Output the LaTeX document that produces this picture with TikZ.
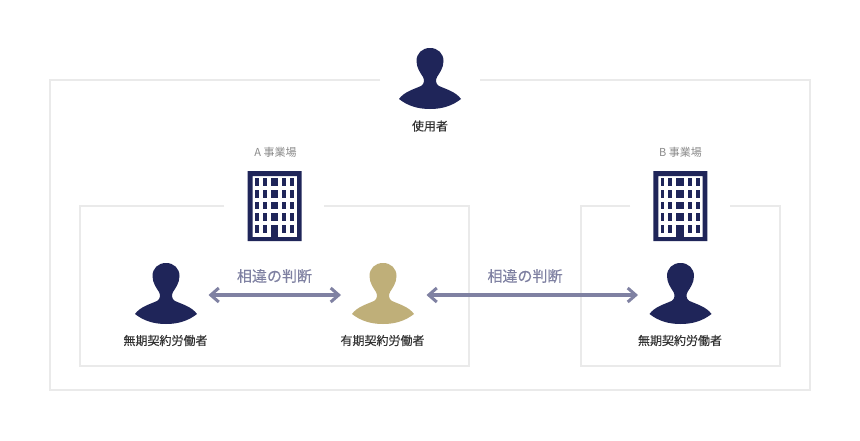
\documentclass[tikz,border=0pt]{standalone}
\usepackage{fontspec}
\setmainfont{Noto Sans CJK JP}
\newfontfamily\jpmed[FakeBold=0.3]{Noto Sans CJK JP}
\usetikzlibrary{arrows.meta}
\definecolor{navy}{HTML}{1F2559}
\definecolor{sand}{HTML}{BFAF79}
\definecolor{framec}{HTML}{EAEAEA}
\definecolor{arrowc}{HTML}{7F81A2}
\definecolor{labelc}{HTML}{333333}
\definecolor{sitec}{HTML}{8A8A8A}
\tikzset{
  x=1pt,y=-1pt,
  frameline/.style={draw=framec,line width=1.1pt},
  compare/.style={draw=arrowc,line width=3.1pt,{Straight Barb[length=8pt,width=14pt,line width=3pt]}-{Straight Barb[length=8pt,width=14pt,line width=3pt]}},
  plabel/.style={text=labelc,font=\jpmed\fontsize{12}{14}\selectfont,inner sep=0pt},
  clabel/.style={text=arrowc,font=\jpmed\fontsize{15}{18}\selectfont,inner sep=0pt},
  slabel/.style={text=sitec,font=\fontsize{11}{13}\selectfont,inner sep=0pt},
  personicon/.pic={
    \fill[pic actions]
      (0,0) .. controls (8,0) and (13.5,5.5) .. (13.5,13)
      .. controls (13.5,20) and (9.5,25) .. (7,29)
      .. controls (5.5,32) and (5.5,36) .. (9,38)
      .. controls (17,41.5) and (26,44) .. (31,51)
      .. controls (22,58) and (12,61) .. (0,61)
      .. controls (-12,61) and (-22,58) .. (-31,51)
      .. controls (-26,44) and (-17,41.5) .. (-9,38)
      .. controls (-5.5,36) and (-5.5,32) .. (-7,29)
      .. controls (-9.5,25) and (-13.5,20) .. (-13.5,13)
      .. controls (-13.5,5.5) and (-8,0) .. (0,0) -- cycle;
  },
  buildingicon/.pic={
    \fill[navy,even odd rule] (0,0) rectangle (54,70) (5,5) rectangle (49.3,66);
    \foreach \r in {7.3,19,30.7,42.3,54}{
      \fill[navy] (7.3,\r) rectangle +(3.5,7.7);
      \fill[navy] (14.9,\r) rectangle +(4,7.7);
      \fill[navy] (22.8,\r) rectangle +(7.7,7.7);
      \fill[navy] (34.3,\r) rectangle +(4,7.7);
      \fill[navy] (42.6,\r) rectangle +(3.6,7.7);
    }
    \fill[navy] (22.8,54) rectangle (30.5,66);
  }
}
\begin{document}
\begin{tikzpicture}
\useasboundingbox (0,0) rectangle (860,440);
\fill[white] (0,0) rectangle (860,440);
% frames
\draw[frameline] (380,80) -- (50,80) -- (50,390) -- (810,390) -- (810,80) -- (480,80);
\draw[frameline] (224,206) -- (80,206) -- (80,366) -- (469,366) -- (469,206) -- (324,206);
\draw[frameline] (630,206) -- (581,206) -- (581,366) -- (780,366) -- (780,206) -- (730,206);
% people
\pic[fill=navy] at (430,48) {personicon};
\pic[fill=navy] at (166,263) {personicon};
\pic[fill=sand] at (383,263) {personicon};
\pic[fill=navy] at (680.5,263) {personicon};
% buildings
\pic at (247.7,171) {buildingicon};
\pic at (653.3,171) {buildingicon};
% labels
\node[plabel] (user) at (430,126) {使用者};
\node[slabel] (siteA) at (275.5,152.5) {A 事業場};
\node[slabel] (siteB) at (680.5,152.5) {B 事業場};
\node[plabel] (w1) at (165.5,340.5) {無期契約労働者};
\node[plabel] (w2) at (382.5,340.5) {有期契約労働者};
\node[plabel] (w3) at (680,340.5) {無期契約労働者};
\node[clabel] (c1) at (274.5,276) {相違の判断};
\node[clabel] (c2) at (525,276) {相違の判断};
% connectors
\coordinate (p1) at (208.5,295);
\coordinate (p2) at (341,295);
\coordinate (p3) at (426.5,295);
\coordinate (p4) at (638,295);
\draw[compare] (p1) -- (p2);
\draw[compare] (p3) -- (p4);
\end{tikzpicture}
\end{document}
